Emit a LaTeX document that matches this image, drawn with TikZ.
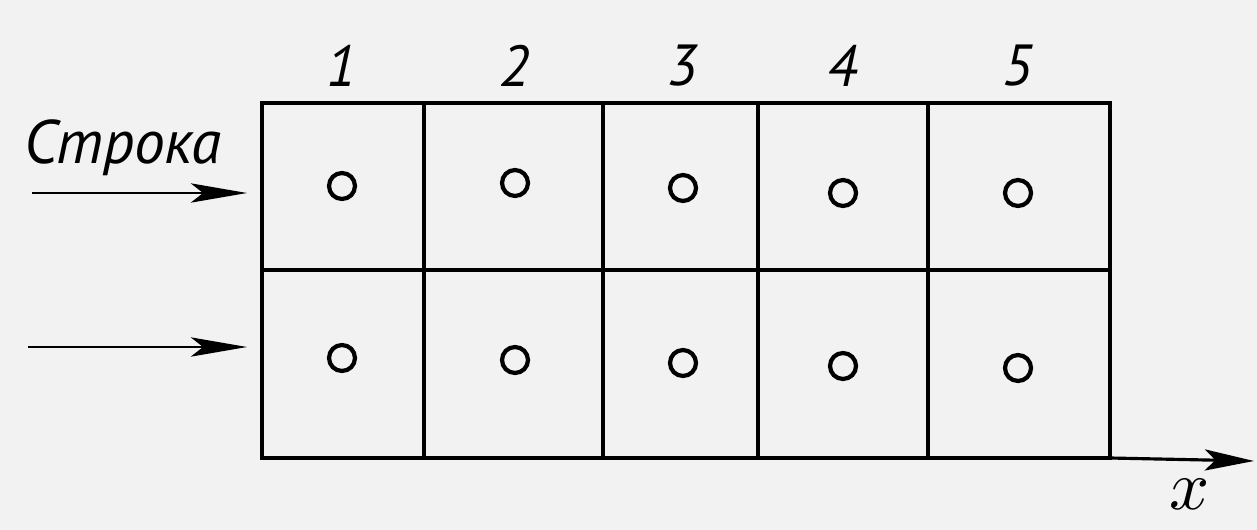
\documentclass[tikz,border=0pt]{standalone}
\usepackage{fontspec}
\setmainfont{PT Sans}
\usepackage{xcolor}
\usepackage{tikz}
\usetikzlibrary{calc, positioning, arrows.meta}

\definecolor{paper}{HTML}{F2F2F2}

\begin{document}
\begin{tikzpicture}[x=0.02cm, y=-0.02cm,
    gridline/.style={black, line width=2.2pt},
    rowarrow/.style={black, line width=1.1pt, -{Stealth[length=32pt, width=11pt, inset=7pt]}},
    axisarrow/.style={black, line width=1.8pt, -{Stealth[length=28pt, width=12pt, inset=6pt]}},
    hole/.style={circle, draw, line width=2.4pt, minimum size=0.52cm, inner sep=0pt},
    colnum/.style={font=\fontsize{33}{33}\selectfont\itshape}]
    % 0. Фон и границы рисунка
    \fill[paper] (0,0) rectangle (1257,530);
    \useasboundingbox (0,0) rectangle (1257,530);

    % 1. Сетка 2 x 5
    \draw[gridline] (262,103) rectangle (1110,458);
    \draw[gridline] (262,270) -- (1110,270);
    \foreach \xx in {424,603,758,928}
        \draw[gridline] (\xx,103) -- (\xx,458);

    % 2. Номера столбцов и кружки в ячейках
    \foreach \i/\xx/\ya/\yb in {1/342/186/358, 2/515/183/360, 3/683/188/363, 4/843/193/366, 5/1018/193/368} {
        \node[hole] (a\i) at (\xx,\ya) {};
        \node[hole] (b\i) at (\xx,\yb) {};
        \node[colnum] (n\i) at (\xx,66) {\i};
    }

    % 3. Стрелки строк
    \node[font=\fontsize{35}{35}\selectfont\itshape] (stroka) at (123,148) {Строка};
    \coordinate (s1) at (32,193);
    \coordinate (e1) at (247,193);
    \coordinate (s2) at (28,347);
    \coordinate (e2) at (247,347);
    \draw[rowarrow] (s1) -- (e1);
    \draw[rowarrow] (s2) -- (e2);

    % 4. Ось x
    \coordinate (o) at (1110,458);
    \coordinate (xend) at (1254,461);
    \draw[axisarrow] (o) -- (xend);
    \node[scale=4] (xlab) at (1190,494) {$x$};
\end{tikzpicture}
\end{document}
